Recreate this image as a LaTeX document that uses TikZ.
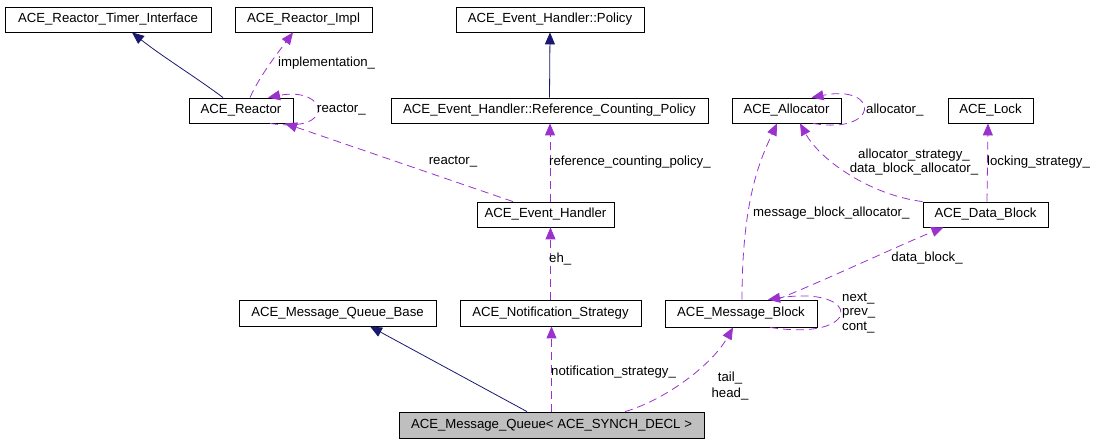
\documentclass[tikz,border=0pt]{standalone}
\usepackage{fontspec}
\setmainfont{Liberation Sans}
\usetikzlibrary{arrows.meta}
\definecolor{navyedge}{HTML}{191970}
\definecolor{purpleedge}{HTML}{9A32CD}
\definecolor{boxgray}{HTML}{BFBFBF}
\begin{document}
\begin{tikzpicture}[x=1pt,y=-1pt,
  box/.style={draw=black, line width=0.8pt, minimum height=25pt, inner sep=0pt,
    font=\fontsize{13.2}{14.3}\selectfont},
  lbl/.style={inner sep=0pt, font=\fontsize{13.2}{14.3}\selectfont},
  inh/.style={draw=navyedge, line width=0.8pt, -{Triangle[length=12pt,width=10pt]}},
  usage/.style={draw=purpleedge, line width=0.8pt, dash pattern=on 8pt off 5pt,
    -{Triangle[length=12pt,width=10pt]}}]
\useasboundingbox (0,0) rectangle (1100,443);
% nodes
\node[box, minimum width=206pt] (rti) at (108,19.5) {ACE\_Reactor\_Timer\_Interface};
\node[box, minimum width=137pt] (impl) at (303.5,19.5) {ACE\_Reactor\_Impl};
\node[box, minimum width=188pt] (policy) at (550,19.5) {ACE\_Event\_Handler::Policy};
\node[box, minimum width=104pt] (reactor) at (241,110.5) {ACE\_Reactor};
\node[box, minimum width=317pt] (rcp) at (549.5,110.5) {ACE\_Event\_Handler::Reference\_Counting\_Policy};
\node[box, minimum width=109pt] (alloc) at (786.5,110.5) {ACE\_Allocator};
\node[box, minimum width=85pt] (lock) at (990.5,110.5) {ACE\_Lock};
\node[box, minimum width=137pt] (eh) at (545.5,214.5) {ACE\_Event\_Handler};
\node[box, minimum width=125pt] (dblock) at (985.5,214.5) {ACE\_Data\_Block};
\node[box, minimum width=197pt, minimum height=26pt] (mqb) at (337.5,313) {ACE\_Message\_Queue\_Base};
\node[box, minimum width=181pt, minimum height=26pt] (notif) at (550.5,313) {ACE\_Notification\_Strategy};
\node[box, minimum width=152pt, minimum height=27pt] (mblock) at (741,313.5) {ACE\_Message\_Block};
\node[box, minimum width=305pt, minimum height=26pt, fill=boxgray] (mq) at (551.5,425) {ACE\_Message\_Queue< ACE\_SYNCH\_DECL >};
% inheritance edges
\draw[inh] ([xshift=-18pt]reactor.north) .. controls (200,80) and (160,55) .. ([xshift=24pt]rti.south);
\draw[inh] (rcp.north) -- (policy.south);
\draw[inh] ([xshift=-24.5pt]mq.north) -- ([xshift=32.5pt]mqb.south);
% usage edges
\draw[usage] ([xshift=9pt]reactor.north) .. controls (260,75) and (280,50) .. ([xshift=-10.5pt]impl.south);
\draw[usage] ([xshift=29pt]reactor.south) .. controls (338,134) and (328,86) .. ([xshift=27pt]reactor.north);
\draw[usage] ([xshift=-32.5pt]eh.north) -- ([xshift=44pt]reactor.south);
\draw[usage] ([xshift=4.5pt]eh.north) -- ([xshift=0.5pt]rcp.south);
\draw[usage] (notif.north) -- ([xshift=5pt]eh.south);
\draw[usage] (mq.north) -- ([xshift=1pt]notif.south);
\draw[usage] ([xshift=73.5pt]mq.north) .. controls (665,400) and (712,365) .. ([xshift=-8pt]mblock.south);
\draw[usage] ([xshift=29pt]mblock.south) .. controls (863,342) and (863,285) .. ([xshift=27pt]mblock.north);
\draw[usage] ([xshift=36pt]mblock.north) .. controls (830,278) and (900,245) .. ([xshift=-42pt]dblock.south);
\draw[usage] ([xshift=1pt]mblock.north) .. controls (742,200) and (760,160) .. ([xshift=-9.5pt]alloc.south);
\draw[usage] (dblock.north west) .. controls (870,195) and (820,160) .. ([xshift=13.5pt]alloc.south);
\draw[usage] ([xshift=1.5pt]dblock.north) -- ([xshift=-2.5pt]lock.south);
\draw[usage] ([xshift=26.5pt]alloc.south) .. controls (880,135) and (880,84) .. ([xshift=25pt]alloc.north);
% labels
\node[lbl, anchor=west] (limpl) at (278,63) {implementation\_};
\node[lbl, anchor=west] (lrself) at (317,110) {reactor\_};
\node[lbl] (lreact) at (453,162) {reactor\_};
\node[lbl, anchor=west] (lrcp) at (549,162) {reference\_counting\_policy\_};
\node[lbl, anchor=west] (leh) at (549,259) {eh\_};
\node[lbl, anchor=west] (lnotif) at (551,372) {notification\_strategy\_};
\node[lbl, align=center, font=\fontsize{13.2}{16}\selectfont] (lth) at (730,386) {tail\_\\head\_};
\node[lbl, anchor=west, align=left] (lnpc) at (842,313) {next\_\\prev\_\\cont\_};
\node[lbl] (ldb) at (927,258) {data\_block\_};
\node[lbl, anchor=west] (lmba) at (753,213) {message\_block\_allocator\_};
\node[lbl, align=center] (lasd) at (914,162) {allocator\_strategy\_\\data\_block\_allocator\_};
\node[lbl, anchor=west] (llock) at (987,162) {locking\_strategy\_};
\node[lbl, anchor=west] (lalloc) at (866,110) {allocator\_};
\end{tikzpicture}
\end{document}
